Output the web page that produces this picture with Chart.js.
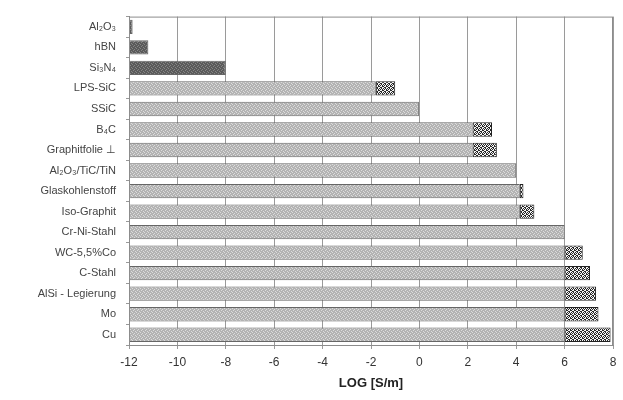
<!DOCTYPE html>
<html>
<head>
<meta charset="utf-8">
<script src="https://cdn.jsdelivr.net/npm/chart.js@4/dist/chart.umd.min.js"></script>
<style>
  body { margin: 0; background: #fff; }
</style>
</head>
<body>
<canvas id="myChart" width="623" height="400"></canvas>
<script>
// Werte (LOG der Leitfähigkeit in S/m)
const labels = ["Al\u2082O\u2083", "hBN", "Si\u2083N\u2084", "LPS-SiC", "SSiC", "B\u2084C", "Graphitfolie \u22A5",
  "Al\u2082O\u2083/TiC/TiN", "Glaskohlenstoff", "Iso-Graphit", "Cr-Ni-Stahl", "WC-5,5%Co", "C-Stahl",
  "AlSi - Legierung", "Mo", "Cu"];
const baseValues = [-11.85, -11.2, -8.0, -1.8, 0.0, 2.2, 2.2, 4.0, 4.15, 4.15, 6.0, 6.0, 6.0, 6.0, 6.0, 6.0];
const rangeEnds = [null, null, null, -1.0, null, 3.0, 3.2, null, 4.3, 4.75, null, 6.75, 7.05, 7.3, 7.4, 7.9];
const darkCount = 3;
const axisMin = -12;
const axisMax = 8;

// kleine Raster-Muster wie im Scan
function makePattern(bg, fg, bits) {
    const c = document.createElement('canvas');
    c.width = 4; c.height = 4;
    const g = c.getContext('2d');
    g.fillStyle = bg;
    g.fillRect(0, 0, 4, 4);
    g.fillStyle = fg;
    for (let i = 0; i < 16; i++) {
        if (bits[i]) g.fillRect(i % 4, Math.floor(i / 4), 1, 1);
    }
    return g.createPattern(c, 'repeat');
}
const ctx = document.getElementById('myChart').getContext('2d');
const lightPat = makePattern('#b3b3b3', '#dcdcdc', [1,0,0,0, 0,0,1,0, 0,1,0,0, 0,0,0,1]);
const darkPat = makePattern('#5a5a5a', '#858585', [1,0,0,0, 0,0,1,0, 0,1,0,0, 0,0,0,1]);
const hatchPat = makePattern('#262626', '#f4f4f4', [1,0,1,0, 0,1,0,1, 1,1,0,0, 0,0,1,1]);

const baseData = baseValues.map(v => [axisMin, v]);
const rangeData = baseValues.map((v, i) => rangeEnds[i] === null ? null : [v, rangeEnds[i]]);
const baseColors = baseValues.map((v, i) => i < darkCount ? darkPat : lightPat);

const frame = {
    id: 'frame',
    afterDraw(chart) {
        const a = chart.chartArea;
        const g = chart.ctx;
        g.save();
        g.strokeStyle = '#8c8c8c';
        g.lineWidth = 1;
        g.strokeRect(a.left + 0.5, a.top + 0.5, a.right - a.left - 1, a.bottom - a.top);
        g.restore();
    }
};

new Chart(ctx, {
    type: 'bar',
    data: {
        labels: labels,
        datasets: [
            {
                data: baseData,
                backgroundColor: baseColors,
                borderColor: '#666',
                borderWidth: 1,
                borderSkipped: false,
                barPercentage: 0.7,
                categoryPercentage: 1
            },
            {
                data: rangeData,
                backgroundColor: hatchPat,
                borderColor: '#222',
                borderWidth: 1,
                borderSkipped: false,
                barPercentage: 0.7,
                categoryPercentage: 1
            }
        ]
    },
    options: {
        indexAxis: 'y',
        responsive: false,
        animation: false,
        layout: { padding: { left: 0, right: 10, top: 10, bottom: 9 } },
        plugins: {
            legend: { display: false },
            tooltip: { enabled: false }
        },
        scales: {
            x: {
                min: axisMin,
                max: axisMax,
                ticks: {
                    stepSize: 2,
                    color: '#333',
                    font: { family: 'Liberation Sans', size: 12 },
                    padding: 6
                },
                grid: { color: '#9a9a9a', tickLength: 4 },
                border: { color: '#8c8c8c' },
                title: {
                    display: true,
                    text: 'LOG [S/m]',
                    color: '#222',
                    font: { family: 'Liberation Sans', size: 13, weight: 'bold' },
                    padding: { top: 2, bottom: 0 }
                },
                afterFit: (s) => { s.height = 46; }
            },
            y: {
                stacked: true,
                ticks: {
                    color: '#444',
                    font: { family: 'Liberation Sans', size: 11 },
                    padding: 10
                },
                grid: { display: true, drawOnChartArea: false, offset: true, tickLength: 3, color: '#999' },
                border: { color: '#8c8c8c' },
                afterFit: (s) => { s.width = 129; }
            }
        }
    },
    plugins: [frame]
});
</script>
</body>
</html>
